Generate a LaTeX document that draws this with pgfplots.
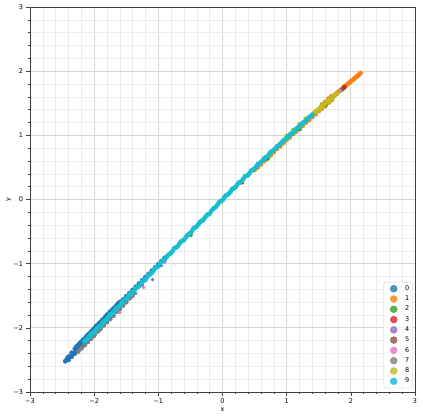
\documentclass[border=0pt]{standalone}
\usepackage{pgfplots}
\pgfplotsset{compat=1.18}
\usepackage{fontspec}
\setmainfont{DejaVu Sans}

\definecolor{c0}{HTML}{1F77B4}
\definecolor{c1}{HTML}{FF7F0E}
\definecolor{c2}{HTML}{2CA02C}
\definecolor{c3}{HTML}{D62728}
\definecolor{c4}{HTML}{9467BD}
\definecolor{c5}{HTML}{8C564B}
\definecolor{c6}{HTML}{E377C2}
\definecolor{c7}{HTML}{7F7F7F}
\definecolor{c8}{HTML}{BCBD22}
\definecolor{c9}{HTML}{17BECF}

\begin{document}
\begin{tikzpicture}
\begin{axis}[
    scale only axis,
    width=385pt, height=385pt,
    xmin=-3, xmax=3, ymin=-3, ymax=3,
    xtick={-3,-2,-1,0,1,2,3},
    ytick={-3,-2,-1,0,1,2,3},
    xticklabels={−3,−2,−1,0,1,2,3},
    yticklabels={−3,−2,−1,0,1,2,3},
    minor tick num=4,
    grid=both,
    major grid style={black!16, line width=0.7pt},
    minor grid style={black!7, line width=0.5pt},
    tick align=outside, tick pos=left,
    major tick length=3.5pt, minor tick length=2pt,
    tick style={black!75, line width=0.6pt},
    axis line style={black!75, line width=0.6pt},
    ticklabel style={font=\fontsize{6.5}{7}\selectfont},
    xlabel={x}, ylabel={y},
    label style={font=\fontsize{6.5}{7}\selectfont},
    xlabel style={at={(axis description cs:0.5,-0.047)}, anchor=center},
    ylabel style={at={(axis description cs:-0.055,0.5)}, anchor=center},
    legend style={at={(axis description cs:0.995,0.010)}, anchor=south east,
        font=\fontsize{6.5}{7}\selectfont, draw=black!18, rounded corners=2pt,
        fill=white, fill opacity=0.8, text opacity=1, row sep=0pt,
        inner sep=1.5pt},
    legend cell align=left,
    legend image code/.code={\path[draw=none] (0pt,0pt) (18pt,0pt);
        \draw[#1, mark size=3.4pt] plot coordinates {(8.5pt,0pt)};},
    every axis plot/.append style={only marks, mark=*, mark size=2.2pt},
]
% 0
\addplot[c0] coordinates {
(-2.45,-2.52) (-2.42,-2.48) (-2.40,-2.45) (-2.35,-2.39) (-2.30,-2.33) (-2.25,-2.27)
(-2.20,-2.22) (-2.15,-2.17) (-2.10,-2.11) (-2.05,-2.06) (-2.00,-2.01) (-1.95,-1.96)
(-1.90,-1.91) (-1.85,-1.86) (-1.80,-1.80) (-1.75,-1.75) (-1.70,-1.70) (-1.65,-1.65)
(-1.60,-1.60) (-1.55,-1.56) (-1.50,-1.51) (-1.45,-1.46) (-1.40,-1.41) (-1.35,-1.36)
(-1.30,-1.31) (-1.25,-1.26) (-1.20,-1.21) (-1.15,-1.16) (-1.10,-1.11) (-1.05,-1.06)
(-1.00,-1.01) (-0.95,-0.96) (-0.90,-0.91)
(-2.275,-2.29) (-2.225,-2.24) (-2.175,-2.19) (-2.125,-2.14) (-2.075,-2.09)
(-2.025,-2.04) (-1.975,-1.98) (-1.925,-1.93) (-1.875,-1.88) (-1.825,-1.83)
(-1.775,-1.78) (-1.725,-1.73) (-1.675,-1.68) (-1.625,-1.62)
(-2.43,-2.50) (-2.38,-2.45) (-2.33,-2.40) (-2.28,-2.35) (-2.23,-2.30) (-2.18,-2.25)
(-2.13,-2.19) (-2.08,-2.14) (-2.03,-2.09)
(-2.40,-2.50) (-2.35,-2.45) (-2.30,-2.40) (-2.25,-2.35) (-2.20,-2.30) (-2.15,-2.25)
(-2.10,-2.20) (-2.05,-2.15) (-2.00,-2.10)
};
\addlegendentry{0}
% 1
\addplot[c1] coordinates {
(0.50,0.46) (0.55,0.50) (0.60,0.55) (0.65,0.60) (0.70,0.65) (0.75,0.69) (0.80,0.74)
(0.85,0.79) (0.90,0.83) (0.95,0.88) (1.00,0.93) (1.05,0.97) (1.10,1.02) (1.15,1.06)
(1.20,1.11) (1.25,1.15) (1.30,1.20) (1.35,1.24) (1.40,1.29) (1.45,1.33) (1.50,1.38)
(1.55,1.42) (1.60,1.46) (1.65,1.51) (1.70,1.55)
(1.55,1.48) (1.60,1.52) (1.65,1.57) (1.70,1.61)
(1.72,1.60) (1.75,1.63) (1.80,1.67) (1.85,1.71) (1.90,1.76) (1.95,1.80) (2.00,1.84)
(2.05,1.88) (2.10,1.92) (2.13,1.95) (2.15,1.97)
(1.775,1.649) (1.825,1.692) (1.875,1.734) (1.925,1.777) (1.975,1.819)
(2.025,1.861) (2.075,1.903) (2.115,1.936)
};
\addlegendentry{1}
% 2
\addplot[c2] coordinates {
(1.87,1.72) (1.20,1.10) (0.70,0.64) (1.60,1.47) (-0.50,-0.55)
};
\addlegendentry{2}
% 3
\addplot[c3] coordinates {
(1.90,1.75) (-1.55,-1.62) (0.30,0.27)
};
\addlegendentry{3}
% 4
\addplot[c4, mark size=1.5pt] coordinates {
(-1.09,-1.25) (-1.91,-2.04) (-1.35,-1.46) (-0.95,-1.03) (-2.05,-2.17) (-1.60,-1.72)
};
\addlegendentry{4}
% 5
\addplot[c5, mark size=1.5pt] coordinates {
(-2.10,-2.21) (-1.75,-1.85) (-1.25,-1.33)
};
\addlegendentry{5}
% 6
\addplot[c6, mark size=1.5pt] coordinates {
(-1.60,-1.76) (-1.23,-1.37) (1.84,1.69) (-1.85,-1.97) (-0.90,-0.98) (-1.40,-1.52)
};
\addlegendentry{6}
% 7
\addplot[c7] coordinates {
(-2.25,-2.37) (-2.20,-2.32)
(-2.15,-2.27) (-2.10,-2.22) (-2.05,-2.17) (-2.00,-2.12) (-1.95,-2.06) (-1.90,-2.01)
(-1.85,-1.96) (-1.80,-1.91) (-1.75,-1.86) (-1.70,-1.81) (-1.65,-1.75) (-1.60,-1.70)
(-1.55,-1.65) (-1.50,-1.60) (-1.45,-1.54) (-1.40,-1.49)
};
\addlegendentry{7}
% 8
\addplot[c8] coordinates {
(0.90,0.87) (0.95,0.91) (1.00,0.96) (1.05,1.01) (1.10,1.05) (1.15,1.10) (1.20,1.14)
(1.25,1.19) (1.30,1.23) (1.35,1.28) (1.40,1.32) (1.45,1.37) (1.50,1.41) (1.55,1.45)
(1.60,1.50) (1.65,1.54) (1.70,1.58) (1.75,1.62) (1.78,1.65)
(1.00,0.99) (1.10,1.08) (1.20,1.17) (1.30,1.26)
(1.425,1.344) (1.475,1.388) (1.525,1.432) (1.575,1.476) (1.625,1.519)
(1.675,1.563) (1.725,1.606)
};
\addlegendentry{8}
% 9
\addplot[c9] coordinates {
(-2.15,-2.21) (-2.10,-2.17) (-2.05,-2.10) (-2.00,-2.07) (-1.95,-2.00) (-1.90,-1.97)
(-1.85,-1.90) (-1.80,-1.86) (-1.75,-1.79) (-1.70,-1.76) (-1.65,-1.69) (-1.60,-1.66)
(-1.55,-1.59) (-1.50,-1.55) (-1.45,-1.48) (-1.40,-1.45) (-1.35,-1.38) (-1.30,-1.35)
(-1.25,-1.28) (-1.20,-1.25) (-1.15,-1.18) (-1.10,-1.14) (-1.05,-1.07) (-1.00,-1.04)
(-0.95,-0.97) (-0.90,-0.94) (-0.85,-0.87) (-0.80,-0.83) (-0.75,-0.76) (-0.70,-0.73)
(-0.65,-0.66) (-0.60,-0.63) (-0.55,-0.56) (-0.50,-0.52) (-0.45,-0.45) (-0.40,-0.42)
(-0.35,-0.35) (-0.30,-0.32) (-0.25,-0.25) (-0.20,-0.22) (-0.15,-0.15) (-0.10,-0.11)
(-0.05,-0.04) (0.00,-0.01) (0.05,0.06) (0.10,0.09) (0.15,0.16) (0.20,0.19)
(0.25,0.26) (0.30,0.29) (0.35,0.36) (0.40,0.38) (0.45,0.45) (0.50,0.48)
(0.55,0.55) (0.60,0.58) (0.65,0.64) (0.70,0.67) (0.75,0.74) (0.80,0.77)
(0.85,0.83) (0.90,0.86) (0.95,0.92) (1.00,0.95) (1.05,1.01) (1.10,1.04)
(1.15,1.10) (1.20,1.14) (1.25,1.19) (1.30,1.23) (1.35,1.28) (1.40,1.32)
(-2.125,-2.189) (-2.075,-2.137) (-2.025,-2.086) (-1.975,-2.034) (-1.925,-1.983)
(-1.875,-1.931) (-1.825,-1.880) (-1.775,-1.828) (-1.725,-1.777) (-1.675,-1.725)
(-1.625,-1.674) (-1.575,-1.622) (-1.525,-1.571) (-1.475,-1.519) (-1.425,-1.468)
(-1.375,-1.416) (-1.325,-1.365) (-1.275,-1.313) (-1.225,-1.262) (-1.175,-1.210)
(-1.125,-1.159) (-1.075,-1.107) (-1.025,-1.056) (-0.975,-1.004) (-0.925,-0.953)
(-0.875,-0.901) (-0.825,-0.850) (-0.775,-0.798) (-0.725,-0.747) (-0.675,-0.695)
(-0.625,-0.644) (-0.575,-0.592) (-0.525,-0.541) (-0.475,-0.489) (-0.425,-0.438)
(-0.375,-0.386) (-0.325,-0.335) (-0.275,-0.283) (-0.225,-0.232) (-0.175,-0.180)
(-0.125,-0.129) (-0.075,-0.077) (-0.025,-0.026) (0.025,0.025) (0.075,0.075)
(0.125,0.124) (0.175,0.174) (0.225,0.223) (0.275,0.272) (0.325,0.321)
(0.375,0.369) (0.425,0.418) (0.475,0.466) (0.525,0.514) (0.575,0.562)
(0.625,0.609) (0.675,0.657) (0.725,0.704) (0.775,0.751) (0.825,0.798)
(0.875,0.844) (0.925,0.891) (0.975,0.937) (1.025,0.983) (1.075,1.029)
(1.125,1.074) (1.175,1.120) (1.225,1.165) (1.275,1.210) (1.325,1.255)
(1.375,1.299)
};
\addlegendentry{9}
\end{axis}
\pgfresetboundingbox
\path[use as bounding box] ([xshift=-30pt,yshift=-26pt]current axis.south west)
    rectangle ([xshift=8pt,yshift=7pt]current axis.north east);
\end{tikzpicture}
\end{document}
